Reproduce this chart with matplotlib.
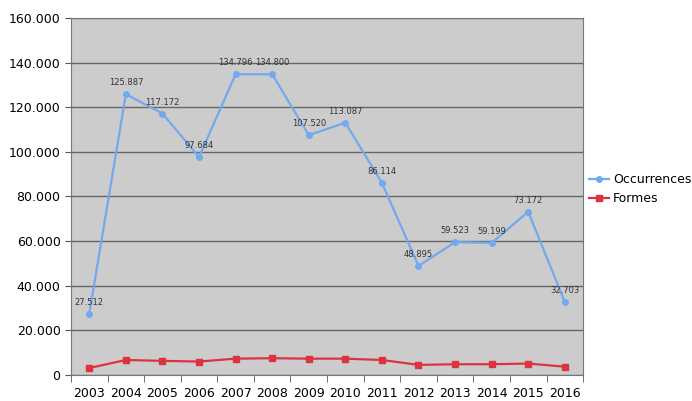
import matplotlib.pyplot as plt
import numpy as np

years = ['2003', '2004', '2005', '2006', '2007', '2008', '2009',
         '2010', '2011', '2012', '2013', '2014', '2015', '2016']
occurrences = [27512, 125887, 117172, 97684, 134796, 134800, 107520,
               113087, 86114, 48895, 59523, 59199, 73172, 32703]
formes = [3100, 6700, 6300, 6000, 7300, 7500, 7300,
          7300, 6700, 4500, 4800, 4800, 5100, 3700]


def fmt_dot(v):
    return '{:,}'.format(int(v)).replace(',', '.')


fig = plt.figure(figsize=(6.92, 4.01), dpi=100)
ax = fig.add_axes([0.1026, 0.065, 0.74, 0.89])
ax.set_facecolor('#cccccc')

x = np.arange(len(years))
ax.plot(x, occurrences, color='#72a9ef', lw=1.6, marker='o', ms=4, label='Occurrences', zorder=3)
ax.plot(x, formes, color='#dd3340', lw=1.6, marker='s', ms=4.5, label='Formes', zorder=3)

for xi, v in zip(x, occurrences):
    ax.annotate(fmt_dot(v), (xi, v), xytext=(0, 5), textcoords='offset points',
                ha='center', va='bottom', fontsize=6, color='#333333')

ax.set_xlim(-0.5, len(years) - 0.5)
ax.set_ylim(0, 160000)
ax.set_yticks(np.arange(0, 160001, 20000))
ax.set_yticklabels([fmt_dot(v) for v in np.arange(0, 160001, 20000)], fontsize=9)
ax.set_xticks(x)
ax.set_xticklabels(years, fontsize=9)
ax.set_xticks(np.arange(-0.5, len(years)), minor=True)
ax.tick_params(axis='x', which='major', length=0, pad=9)
ax.tick_params(axis='x', which='minor', length=5, color='#555555')
ax.tick_params(axis='y', length=4, color='#555555')
ax.grid(axis='y', color='#666666', lw=1.0)
ax.set_axisbelow(True)
for s in ax.spines.values():
    s.set_color('#777777')

ax.legend(loc='center left', bbox_to_anchor=(0.99, 0.52), frameon=False, fontsize=9,
          handlelength=1.6, handletextpad=0.3, labelspacing=0.5)

fig.savefig('out.png', dpi=100)
